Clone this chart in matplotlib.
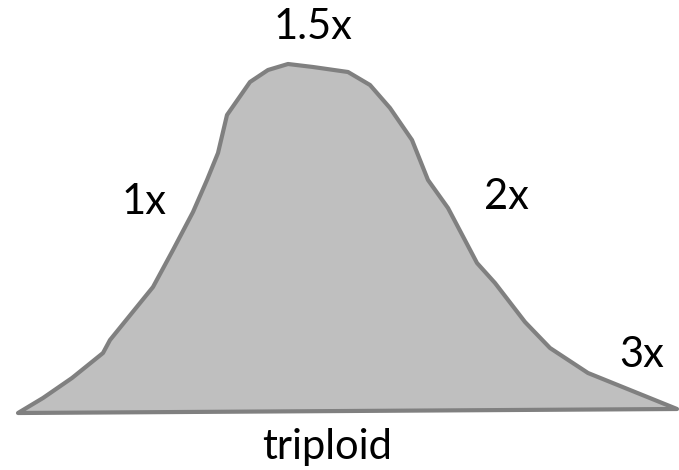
import matplotlib.pyplot as plt
from matplotlib.patches import Polygon

# outline of the ploidy peak (x position, height above baseline)
peak_x = [18, 43, 72, 103, 110, 153, 173, 193, 207, 218, 227, 250, 268, 288, 313,
          348, 370, 390, 412, 428, 448, 477, 495, 525, 550, 588, 677]
peak_h = [0, 15, 35, 60, 73, 126, 163, 201, 233, 260, 298, 331, 343, 349, 346,
          341, 328, 305, 273, 233, 205, 150, 130, 91, 65, 40, 4]
baseline = 413

labels = ["1.5x", "1x", "2x", "3x", "triploid"]
label_x = [313, 144, 506, 642, 327]
label_y = [27, 202, 197, 355, 447]

fig = plt.figure(figsize=(6.79, 4.70), dpi=100)
ax = fig.add_axes([0, 0, 1, 1])
ax.set_xlim(0, 679)
ax.set_ylim(470, 0)
ax.axis('off')

pts = [(x, baseline - h) for x, h in zip(peak_x, peak_h)]
poly = Polygon(pts, closed=True, facecolor='#bfbfbf', edgecolor='#808080',
               linewidth=3, joinstyle='round')
ax.add_patch(poly)

for t, x, y in zip(labels, label_x, label_y):
    ax.text(x, y, t, ha='center', va='center', fontsize=30, family='Lato', color='black')

fig.savefig('out.png', dpi=100)
